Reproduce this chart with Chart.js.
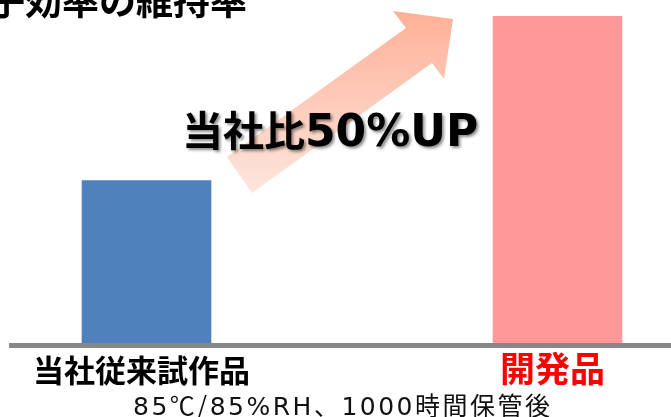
<!DOCTYPE html>
<html lang="ja">
<head>
<meta charset="utf-8">
<script src="https://cdn.jsdelivr.net/npm/chart.js@4.4.1/dist/chart.umd.min.js"></script>
<style>
  html, body { margin: 0; padding: 0; background: #fff; overflow: hidden; }
  .wrap { position: relative; width: 671px; height: 417px; overflow: hidden; }
  canvas { position: absolute; left: 0; top: 0; }
  .txt { position: absolute; white-space: nowrap; line-height: 1; color: #000; font-family: "Noto Sans CJK JP", sans-serif; }
  #title { left: -12px; top: -19px; font-size: 37px; font-weight: bold; }
  #up { left: 182px; top: 108px; font-size: 41px; font-weight: bold; text-shadow: 2px 2px 3px rgba(0, 0, 0, 0.45); }
  #up span { font-family: "DejaVu Sans", sans-serif; font-size: 44px; }
  #note { left: 133px; top: 392px; font-size: 25px; letter-spacing: 2.5px; color: #111; }
  #note span { font-family: "DejaVu Sans", sans-serif; }
</style>
</head>
<body>
<div class="wrap">
  <canvas id="chart" width="671" height="417"></canvas>
  <div class="txt" id="title">子効率の維持率</div>
  <div class="txt" id="up">当社比<span>50%UP</span></div>
  <div class="txt" id="note"><span>85</span>℃/<span>85%RH</span>、<span>1000</span>時間保管後</div>
</div>
<script>
// ---------------- data ----------------
const categories = ['当社従来試作品', '開発品'];
const values = [50, 100];
const barColors = ['#4F81BD', '#FF9999'];
const labelColors = ['#000000', '#FF0000'];
const labelSizes = [31, 35];
const labelLineHeights = ['34px', '32px'];

// ---------------- arrow behind the bars ----------------
const arrowPlugin = {
    id: 'upArrow',
    beforeDatasetsDraw(chart) {
        const ctx = chart.ctx;
        const pts = [[227, 157], [406, 28], [393, 11], [453, 19], [444, 79], [432, 63], [252, 193]];
        const grad = ctx.createLinearGradient(0, 193, 0, 11);
        grad.addColorStop(0, '#FDE6DE');
        grad.addColorStop(1, '#FFB096');
        ctx.save();
        ctx.beginPath();
        pts.forEach((p, i) => i ? ctx.lineTo(p[0], p[1]) : ctx.moveTo(p[0], p[1]));
        ctx.closePath();
        ctx.fillStyle = grad;
        ctx.fill();
        ctx.restore();
    }
};

const data = {
    datasets: [{
        data: values.map((v, i) => ({ x: i, y: v })),
        backgroundColor: barColors,
        borderWidth: 0,
        barThickness: 129
    }]
};

const config = {
    type: 'bar',
    data: data,
    options: {
        responsive: false,
        animation: false,
        layout: { padding: { top: 16, left: 11.5, right: 0, bottom: 0 } },
        plugins: {
            legend: { display: false },
            tooltip: { enabled: false }
        },
        scales: {
            x: {
                type: 'linear',
                offset: false,
                min: -0.3285,
                max: 1.2762,
                afterBuildTicks: (scale) => {
                    scale.ticks = categories.map((c, i) => ({ value: i }));
                },
                afterFit: (scale) => {
                    scale.height = 72;
                },
                grid: { display: false, offset: false },
                border: { display: true, width: 5, color: '#878787', z: 1 },
                ticks: {
                    autoSkip: false,
                    maxRotation: 0,
                    padding: 0,
                    labelOffset: -5,
                    callback: (v) => categories[v],
                    color: (c) => labelColors[c.index],
                    font: (c) => ({
                        family: "'Noto Sans CJK JP', sans-serif",
                        size: labelSizes[c.index],
                        weight: 'bold',
                        lineHeight: labelLineHeights[c.index]
                    })
                }
            },
            y: {
                display: false,
                min: 0,
                max: 100
            }
        }
    },
    plugins: [arrowPlugin]
};

new Chart(document.getElementById('chart'), config);
</script>
</body>
</html>
